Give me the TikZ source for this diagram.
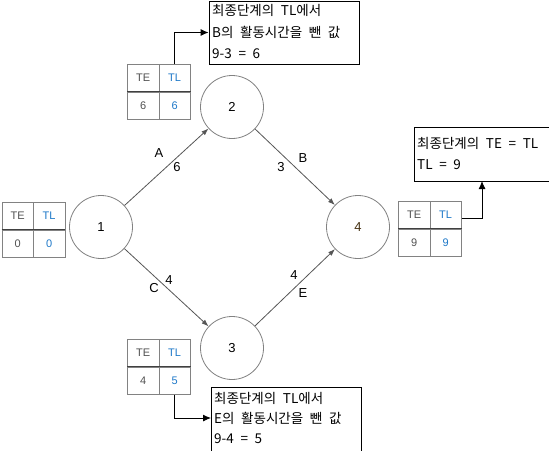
\documentclass[tikz,border=0pt]{standalone}
\usepackage{fontspec}
\setmainfont{Liberation Sans}
\newfontfamily\kr[WordSpace=2.2]{Noto Sans CJK KR}
\usetikzlibrary{arrows.meta}
\definecolor{tblue}{RGB}{30,120,200}
\definecolor{tgray}{RGB}{80,80,80}
\definecolor{bgray}{RGB}{130,130,130}
\definecolor{egray}{RGB}{85,85,85}
\definecolor{nfour}{RGB}{70,50,20}
\newcommand\pertable[5]{%
  \node[cell] (#1te) at (#2,#3) {TE};
  \node[cell, text=tblue] (#1tl) at (#2+31.5,#3) {TL};
  \node[cell] (#1ve) at (#2,#3+27.5) {#4};
  \node[cell, text=tblue] (#1vl) at (#2+31.5,#3+27.5) {#5};
  \draw[line width=0.9pt, draw=black!75] (#1ve.north west) -- (#1vl.north east);
}
\begin{document}
\begin{tikzpicture}[x=1pt,y=-1pt,
  ev/.style={circle, draw=bgray, line width=0.8pt, minimum size=63pt, inner sep=0pt, font=\fontsize{13}{13}\selectfont},
  act/.style={draw=egray, line width=0.8pt, -{Latex[length=7pt,width=5pt]}},
  elab/.style={font=\fontsize{13}{13}\selectfont, inner sep=0pt},
  cell/.style={draw=bgray, line width=0.7pt, minimum width=31.5pt, minimum height=27.5pt, inner sep=0pt, anchor=north west, font=\fontsize{11}{11}\selectfont, text=tgray},
  callout/.style={draw=black, line width=0.9pt, inner sep=0pt},
  ctext/.style={anchor=west, inner sep=0pt, text height=10pt, text depth=0pt, font=\kr\fontsize{13.5}{13.5}\selectfont},
  pointer/.style={draw=black, line width=0.9pt, -{Latex[length=8pt,width=7pt]}}
]
\useasboundingbox (0,0) rectangle (549,450);

% events
\node[ev] (n1) at (101,227) {1};
\node[ev] (n2) at (232,107) {2};
\node[ev] (n3) at (232,348) {3};
\node[ev, text=nfour] (n4) at (358,227) {4};

% activities
\draw[act] (n1) -- (n2);
\draw[act] (n2) -- (n4);
\draw[act] (n1) -- (n3);
\draw[act] (n3) -- (n4);

% activity labels
\node[elab] (la) at (159,153) {A};
\node[elab] (l6) at (177,167) {6};
\node[elab] (l3) at (281,167) {3};
\node[elab] (lb) at (303,158) {B};
\node[elab] (lc) at (154,288) {C};
\node[elab] (l4a) at (169,280) {4};
\node[elab] (l4b) at (294,275) {4};
\node[elab] (le) at (303,293) {E};

% tables
\pertable{t1}{1.5}{202}{0}{0}
\pertable{t2}{127}{64}{6}{6}
\pertable{t3}{127}{339}{4}{5}
\pertable{t4}{398}{201}{9}{9}

% callout for node 2
\node[callout, minimum width=150pt, minimum height=63pt] (b2) at (284,32.5) {};
\node[ctext] (b2a) at (212,10.5) {최종단계의 TL에서};
\node[ctext] (b2b) at (212,32) {B의 활동시간을 뺀 값};
\node[ctext] (b2c) at (212,53) {9-3 = 6};
\draw[pointer] (t2tl.north) |- (b2.west);

% callout for node 4
\node[callout, minimum width=146pt, minimum height=54pt] (b4) at (487,154) {};
\node[ctext] (b4a) at (417,143) {최종단계의 TE = TL};
\node[ctext] (b4b) at (417,164) {TL = 9};
\coordinate (b4p) at (482,181);
\draw[pointer] ([yshift=-3pt]t4tl.east) -| (b4p);

% callout for node 3
\node[callout, minimum width=150pt, minimum height=83pt] (b3) at (286,428.5) {};
\node[ctext] (b3a) at (214,398) {최종단계의 TL에서};
\node[ctext] (b3b) at (214,418) {E의 활동시간을 뺀 값};
\node[ctext] (b3c) at (214,438) {9-4 = 5};
\coordinate (b3p) at (211,418);
\draw[pointer] (t3vl.south) |- (b3p);
\end{tikzpicture}
\end{document}
